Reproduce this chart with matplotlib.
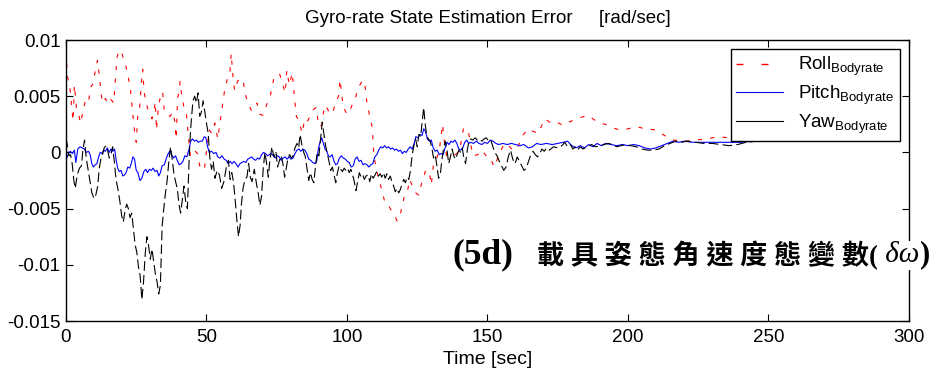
import matplotlib
matplotlib.use("Agg")
import matplotlib.pyplot as plt
from matplotlib.lines import Line2D
import numpy as np

# values, in units of 1e-3 rad/sec
t_roll = [0, 0.5, 1.5, 2.5, 3, 3.7, 4.5, 5.2, 6, 7, 8, 8.8, 9.6, 10.4, 11.2, 12, 12.6, 13.2, 14, 15,
          16, 17, 17.6, 18.2, 19, 19.8, 20.6, 21.4, 22.3, 23, 23.6, 24, 24.5, 25, 25.6, 26.2, 26.8, 27.3,
          27.8, 28.4, 29.2, 30, 30.6, 31.2, 31.8, 32.2, 32.8, 33.6, 34.4, 35, 36, 37, 38, 38.8, 39.2,
          39.7, 40.3, 40.6, 41.2, 42, 42.8, 43.5, 44.3, 45, 46, 46.8, 47.6, 48.5, 49.3, 50.2, 51, 51.8,
          53, 54, 55, 55.8, 56.5, 57.5, 58.3, 58.8, 59.4, 60, 61, 62, 63, 64, 65, 66, 67, 68, 69, 70,
          71.5, 72.5, 74, 75, 76, 77, 78, 78.6, 79.5, 80.5, 81.2, 82, 83, 84, 85, 86, 87, 88, 89, 90,
          91, 92, 93, 94, 95, 96, 97, 97.5, 98.5, 99.5, 100.5, 101.8, 102.8, 104, 105, 106.2, 107, 108,
          109, 109.6, 110.5, 111.5, 112.5, 113.5, 114.8, 115.8, 117, 117.8, 119, 120.5, 121.5, 122.3,
          123.3, 124.5, 125.5, 126.5, 128, 129.3, 130, 130.8, 131.7, 133, 134, 134.8, 135.5, 137,
          138.5, 140, 141.5, 142.5, 143.3, 144.8, 146.6, 148, 149.5, 151, 152.3, 153.5, 154.5, 156,
          157.5, 159, 160.5, 162.5, 164.5, 166, 168, 170.5, 172.5, 174.5, 177, 179, 181, 183, 185.8,
          188, 190, 192, 194.5, 197, 200, 203, 206, 210, 213, 216, 220, 224, 228, 232, 236, 242, 250]
roll = [9.0, 6.8, 5.5, 2.8, 6.0, 4.0, 3.4, 2.6, 3.6, 4.7, 4.5, 5.8, 6.1, 7.2, 8.2, 6.5, 5.0, 4.4, 4.8,
        4.3, 4.7, 4.4, 6.6, 8.5, 9.1, 8.9, 8.2, 7.6, 6.5, 5.5, 3.8, 2.9, 1.6, 0.9, 3.5, 4.0, 6.0, 7.4,
        5.4, 4.5, 3.8, 3.5, 3.0, 3.5, 4.5, 2.0, 3.8, 5.0, 5.4, 3.6, 3.4, 3.2, 3.6, 2.7, 1.2, 4.8, 5.5,
        6.3, 5.0, 4.0, 3.6, 1.5, -0.4, -0.3, 0.1, -0.1, -1.2, -1.6, -1.4, 0.5, 2.0, 1.7, 2.6, 1.2,
        3.0, 4.4, 5.6, 6.6, 7.0, 8.8, 6.8, 5.5, 6.3, 6.6, 6.4, 5.0, 4.3, 3.7, 4.0, 4.4, 3.4, 3.3,
        4.3, 4.8, 6.6, 6.9, 7.0, 6.2, 5.3, 7.3, 6.0, 7.1, 5.2, 3.2, 2.8, 1.7, 3.0, 2.8, 3.3, 3.8,
        4.0, 2.3, 2.4, 4.2, 3.9, 3.4, 3.6, 4.5, 5.0, 6.5, 4.4, 3.6, 3.4, 4.2, 4.7, 5.7, 6.2, 6.4,
        4.6, 3.3, 2.2, -0.4, -1.5, -2.6, -3.4, -4.5, -4.7, -5.2, -5.6, -6.1, -5.5, -3.8, -3.5,
        -2.4, -3.0, -3.6, -3.8, -2.8, -1.6, -1.7, -2.9, -1.0, -0.8, 0.5, 2.5, 0.6, -0.3, -0.4,
        -0.2, 0.1, 2.2, 2.0, 1.7, -0.3, -0.2, 0.2, -0.3, -0.4, -1.3, -0.6, 0.0, 0.8, 0.6, 0.2, 0.3,
        1.5, 2.1, 1.9, 1.7, 3.0, 2.6, 2.7, 2.4, 2.7, 2.9, 3.1, 3.3, 2.9, 2.6, 2.5, 2.2, 2.0, 2.1,
        2.3, 2.1, 2.0, 1.5, 1.1, 1.0, 1.1, 1.2, 1.4, 1.3, 1.2, 1.3]

t_pitch = [0, 0.7, 1.5, 2.3, 3, 3.5, 4.2, 5, 5.8, 6.5, 7.2, 8, 8.6, 9.2, 9.8, 10.4, 11, 11.6, 12.2,
           12.8, 13.4, 14, 14.7, 15.4, 16, 16.7, 17.3, 17.8, 18.4, 19, 19.6, 20.2, 20.8, 21.4, 22,
           22.7, 23.3, 23.8, 24.4, 25, 25.6, 26.3, 27, 27.7, 28.4, 29, 29.7, 30.4, 31, 31.7, 32.4, 33,
           33.6, 34.2, 35, 35.6, 36.2, 36.9, 37.6, 38.3, 39, 39.6, 40.3, 41, 41.6, 42.3, 43, 43.7,
           44.4, 45, 45.7, 46.4, 47.1, 47.8, 48.5, 49.2, 49.8, 50.4, 51, 51.8, 52.6, 53.4, 54, 54.8,
           55.5, 56.3, 57, 57.7, 58.4, 59.1, 59.8, 60.5, 61.2, 61.9, 62.6, 63.3, 64, 64.7, 65.4, 66.1,
           66.8, 67.5, 68.2, 68.9, 69.6, 70.3, 71, 71.7, 72.4, 73.1, 73.8, 74.5, 75.2, 75.9, 76.6,
           77.3, 78, 78.7, 79.4, 80.1, 80.8, 81.5, 82.2, 82.9, 83.6, 84.3, 85, 85.7, 86.4, 87.1, 87.8,
           88.5, 89.2, 89.8, 90.4, 91, 91.6, 92.2, 92.8, 93.4, 94, 94.7, 95.4, 96, 96.6, 97.3, 98,
           98.7, 99.4, 100.1, 100.8, 101.5, 102.2, 102.9, 103.6, 104.3, 105, 105.7, 106.4, 107.1,
           107.8, 108.5, 109.2, 109.9, 110.6, 111.3, 112, 112.7, 113.4, 114.1, 114.8, 115.5, 116.2,
           116.9, 117.6, 118.3, 119, 119.7, 120.4, 121.1, 121.8, 122.5, 123.2, 123.9, 124.5, 125.2,
           126, 126.7, 127.3, 127.9, 128.6, 129.3, 130, 130.7, 131.4, 132.1, 132.8, 133.5, 134.2,
           134.9, 135.6, 136.3, 137, 137.7, 138.4, 139.1, 139.8, 140.5, 141.2, 141.9, 142.6, 143.3,
           144, 145, 146, 147, 148, 149, 150, 151, 152, 153, 154, 155.5, 157, 158.5, 160, 161.5, 163,
           164.5, 166, 167.5, 169, 171, 173, 175, 177, 178.5, 180, 181.5, 183, 184.5, 186, 187.5, 189,
           190.5, 192, 194, 196, 198, 200, 202, 204, 206, 208, 210, 212, 214, 216, 218, 220, 223, 226,
           230, 235, 240, 245, 250]
pitch = [-0.7, -0.2, 0.1, -0.1, 0.2, -0.9, 0.3, 0.5, 0.4, 0.3, 0.0, 0.1, -0.2, -1.0, -1.3, -1.1,
         -1.0, -0.4, 0.0, -0.1, 0.2, 0.1, 0.4, 0.0, 0.3, 0.1, 0.3, -0.6, -1.4, -1.7, -1.6, -2.1, -2.0,
         -1.8, -1.3, -1.4, -0.9, -0.4, -0.6, -1.6, -1.8, -2.5, -2.3, -1.7, -1.5, -1.8, -1.5, -1.6,
         -1.4, -1.7, -1.6, -2.1, -1.8, -1.2, -1.1, -0.6, -0.2, 0.1, -0.2, -0.5, -0.3, -0.7, -1.1,
         -1.0, -0.8, -0.3, -0.4, 0.2, 1.0, 1.2, 1.0, 1.1, 0.9, 1.0, 1.0, 1.4, 1.3, 0.5, 0.0, 0.1,
         -0.1, 0.0, -0.4, -0.5, -0.3, -0.6, -0.7, -1.0, -0.8, -1.0, -0.8, -1.0, -1.3, -1.0, -0.9,
         -0.8, -0.9, -0.6, -0.5, -0.4, -0.6, -0.7, -0.5, -0.6, -0.2, 0.0, -0.1, -0.3, -0.2, -0.1,
         -0.3, -0.5, -0.3, -0.4, -0.7, -0.5, -0.4, -0.6, -0.4, -0.6, -0.5, -0.1, 0.2, 0.3, 0.1, 0.3,
         0.2, -0.1, -0.6, -0.7, -0.9, -1.0, -0.8, 0.3, 0.9, 1.3, 0.8, 0.3, 0.1, -0.3, -0.4, -0.2,
         -0.8, -1.1, -1.0, -0.5, -0.3, -0.5, -0.6, -0.8, -0.9, -1.3, -1.2, -0.6, -0.4, -0.8, -0.7,
         -1.1, -1.0, -1.1, -1.3, -1.1, -1.0, -0.4, -0.2, 0.2, 0.5, 0.4, 0.6, 0.4, 0.5, 0.3, 0.4,
         0.2, 0.3, 0.1, 0.2, -0.1, 0.1, 0.0, 0.3, 0.5, 0.3, 0.8, 1.4, 1.3, 1.6, 1.5, 2.1, 1.9, 1.2,
         1.0, 1.1, 0.4, 0.1, 0.2, -0.2, -0.1, -0.2, 0.4, 0.9, 0.7, 1.0, 0.9, 1.1, 0.8, 0.3, 0.2, 0.4,
         0.9, 1.1, 0.8, 0.9, 0.8, 1.0, 0.8, 0.7, 0.9, 0.8, 1.1, 1.0, 0.8, 0.7, 0.8, 0.7, 0.8, 0.7,
         0.6, 0.7, 0.4, 0.5, 0.8, 0.7, 0.8, 0.7, 0.8, 0.9, 1.0, 0.6, 0.4, 0.6, 0.4, 0.7, 0.5, 0.8,
         0.6, 0.8, 0.7, 0.6, 0.7, 0.6, 0.7, 0.6, 0.4, 0.3, 0.4, 0.6, 0.8, 1.0, 0.9, 1.0, 0.9, 0.9,
         0.9, 0.9, 0.9, 1.0, 1.0]

t_yaw = [0, 0.5, 1, 1.6, 2.2, 2.8, 3.3, 4, 4.8, 5.5, 6, 6.6, 7.2, 7.8, 8.5, 9.2, 10, 10.6, 11.3,
         11.8, 12.4, 13, 13.6, 14.2, 14.8, 15.4, 16, 16.6, 17.2, 17.8, 18.5, 19.2, 19.8, 20.4, 21,
         21.6, 22.2, 22.8, 23.4, 24, 24.6, 25.2, 25.8, 26.4, 27, 27.6, 28.2, 28.8, 29.4, 30, 30.6,
         31.2, 31.8, 32.4, 33, 33.6, 34.2, 34.8, 35.4, 36, 36.6, 37.2, 37.8, 38.4, 39, 39.6, 40.2,
         40.8, 41.4, 42, 42.6, 43.2, 43.8, 44.2, 44.6, 45.2, 45.8, 46.4, 47, 47.6, 48.2, 48.8, 49.4,
         50, 50.6, 51.2, 51.8, 52.4, 53, 53.8, 54.6, 55.4, 56.2, 57, 57.8, 58.4, 59, 59.6, 60.2, 60.8,
         61.4, 62, 62.4, 63, 63.7, 64.4, 65, 65.6, 66.2, 67, 67.8, 68.4, 69, 69.6, 70.2, 70.8, 71.4,
         72, 72.6, 73.3, 74, 74.7, 75.3, 76, 76.6, 77.2, 77.8, 78.4, 79, 79.6, 80.2, 80.8, 81.5, 82.2,
         82.8, 83.3, 84, 84.6, 85.2, 85.8, 86.4, 87, 87.6, 88.2, 88.8, 89.4, 90, 90.6, 91.2, 91.8,
         92.4, 93, 93.6, 94.2, 94.8, 95.4, 96, 96.6, 97.2, 97.8, 98.4, 99, 99.6, 100.2, 100.8, 101.4,
         102, 102.6, 103.2, 103.8, 104.4, 105, 105.6, 106.2, 106.8, 107.5, 108.1, 108.7, 109.3, 110,
         110.6, 111.2, 111.8, 112.4, 113, 113.6, 114.2, 114.8, 115.4, 116, 116.6, 117.2, 117.8,
         118.4, 119, 119.6, 120.2, 120.8, 121.4, 122, 122.6, 123.2, 123.8, 124.4, 125, 125.6, 126.2,
         126.8, 127.3, 127.8, 128.4, 129, 129.6, 130.2, 130.8, 131.4, 132, 132.6, 133.2, 133.8,
         134.4, 135, 135.6, 136.2, 136.8, 137.4, 138, 138.6, 139.2, 139.8, 140.4, 141, 141.6, 142.2,
         142.8, 143.4, 144, 144.8, 145.6, 146.4, 147.2, 148, 148.8, 149.5, 150.2, 151, 151.8, 152.6,
         153.4, 154.2, 155, 155.8, 156.6, 157.4, 158.2, 159, 159.8, 160.6, 161.4, 162.2, 163, 163.8,
         164.6, 165.4, 166.2, 167, 167.8, 168.6, 169.4, 170.2, 171, 172, 173.5, 175, 176.5, 177.5,
         178.5, 179.5, 180.4, 181.2, 182, 183, 184, 185.4, 187, 188.5, 190, 191.5, 193, 194.5, 196,
         197.5, 199, 201, 203, 205, 207, 209, 211, 213, 215, 217, 219, 221, 224, 227, 230, 233, 236,
         239, 242, 246, 250]
yaw = [1.3, 0.6, -0.3, -0.2, -1.0, -2.5, -3.2, -2.0, -1.4, -1.2, 0.2, 1.1, -0.5, -1.4, -2.5, -3.6,
       -4.1, -3.8, -3.0, -1.5, -0.6, -0.2, 0.4, 0.6, 0.2, -0.5, -0.2, 0.5, -0.8, -2.4, -3.3, -4.4,
       -5.6, -6.2, -5.2, -4.6, -5.0, -5.8, -5.4, -6.8, -8.2, -8.9, -10.2, -11.0, -13.1, -11.5, -9.0,
       -7.5, -8.3, -9.5, -8.6, -9.7, -10.8, -11.5, -12.6, -11.8, -6.6, -5.0, -3.6, -2.5, -0.8, 0.5,
       -0.6, -1.9, -2.6, -3.2, -4.6, -5.4, -4.2, -3.0, -4.4, -5.0, -0.8, 1.4, 2.9, 4.6, 5.0, 4.4,
       5.3, 3.2, 3.6, 4.6, 3.6, 2.6, 1.7, -0.5, -1.5, -0.8, -2.3, -1.6, -2.0, -3.2, -2.6, -1.4,
       -0.7, -2.4, -1.8, -2.6, -4.2, -6.0, -7.5, -6.4, -4.7, -3.2, -2.4, -2.2, -1.0, -2.2, -2.6,
       -1.5, -2.8, -3.6, -4.7, -3.9, -1.4, 0.0, -1.0, -2.2, -0.6, 0.5, -0.4, 0.1, -1.3, -0.7, -0.3,
       -1.0, -2.2, -1.4, -0.5, -0.2, -0.5, -0.3, 0.4, 0.8, 0.4, 1.6, 0.6, 0.0, -0.4, -1.5, -2.5,
       -1.8, -2.4, -2.7, -1.2, 0.0, -0.3, 1.2, 2.7, 1.6, 0.6, -0.1, -0.8, -1.6, -1.3, -2.0, -2.7,
       -1.8, -1.2, -1.5, -1.7, -1.4, -1.6, -1.4, -1.8, -1.5, -2.0, -2.6, -3.4, -2.6, -1.8, -2.2,
       -2.0, -2.4, -2.1, -2.0, -2.6, -1.9, -2.3, -2.0, -1.7, -2.1, -1.9, -2.2, -1.8, -2.3, -1.9,
       -2.4, -2.1, -2.6, -3.0, -3.5, -3.2, -3.6, -3.3, -2.8, -2.4, -2.7, -2.2, -2.4, -1.6, -0.2,
       0.6, 1.2, 0.5, 1.6, 1.4, 2.8, 4.0, 2.6, 1.4, 1.2, 1.0, 0.4, -0.5, -0.2, -1.2, -2.3, -2.0,
       -0.6, 0.4, 1.0, 0.2, -1.0, -0.4, 0.3, -0.3, -0.6, -0.2, 0.2, 0.0, 0.4, -0.5, -1.0, 0.2, 1.0,
       1.2, 1.1, 1.3, 1.1, 1.2, 1.0, 1.2, 1.3, 1.1, 1.2, 0.6, 0.0, -0.3, -0.8, -1.2, -1.6, -1.3,
       -0.4, 0.2, -0.6, -1.0, -0.4, -0.8, -1.2, -1.6, -1.4, -0.8, -0.2, 0.1, -0.2, -0.4, -0.1, 0.3,
       0.1, 0.4, 0.2, 0.5, 0.4, 0.6, 0.9, 0.5, 0.7, 0.3, 0.5, 0.2, 0.5, 0.3, 0.5, 0.7, 0.5, 0.6,
       0.7, 0.8, 0.7, 0.5, 0.6, 0.7, 0.6, 0.5, 0.3, 0.2, 0.2, 0.3, 0.6, 0.8, 1.0, 0.9, 1.0, 0.9,
       0.8, 0.8, 0.7, 0.6, 0.7, 0.9, 1.0, 1.0]

x_ticks = [0, 50, 100, 150, 200, 250, 300]
y_ticks = [-0.015, -0.01, -0.005, 0, 0.005, 0.01]
y_tick_labels = ["-0.015", "-0.01", "-0.005", "0", "0.005", "0.01"]

plt.rcParams["font.family"] = ["Liberation Sans", "DejaVu Sans"]
plt.rcParams["mathtext.default"] = "regular"
plt.rcParams["lines.scale_dashes"] = False

fig = plt.figure(figsize=(9.4, 3.74), dpi=100)
ax = fig.add_axes([0.0702, 0.1417, 0.8968, 0.7513])

scale = 1e-3
ax.plot(t_roll, np.array(roll) * scale, color="red", lw=0.8, dashes=(3, 6))
ax.plot(t_pitch, np.array(pitch) * scale, color="blue", lw=0.8)
ax.plot(t_yaw, np.array(yaw) * scale, color="black", lw=0.8, dashes=(7, 3))

ax.set_xlim(0, 300)
ax.set_ylim(-0.015, 0.01)
ax.set_xticks(x_ticks)
ax.set_yticks(y_ticks)
ax.set_yticklabels(y_tick_labels)
ax.tick_params(direction="in", top=True, right=True, length=5, width=0.8, labelsize=13.5)
ax.tick_params(axis="x", pad=6)
ax.tick_params(axis="y", pad=4)
for s in ax.spines.values():
    s.set_linewidth(1.0)

ax.set_title("Gyro-rate State Estimation Error     [rad/sec]", fontsize=13.5, pad=12)
ax.set_xlabel("Time [sec]", fontsize=14, labelpad=3)

handles = [Line2D([], [], color="#ff0000", lw=1.0, dashes=(5, 13)),
           Line2D([], [], color="blue", lw=0.8),
           Line2D([], [], color="black", lw=0.8)]
labels = ["Roll$_{Bodyrate}$", "Pitch$_{Bodyrate}$", "Yaw$_{Bodyrate}$"]
leg = ax.legend(handles, labels, loc="upper right", fontsize=13.5, fancybox=False,
                framealpha=1, edgecolor="black", borderaxespad=0.5, handlelength=2.5,
                labelspacing=0.3, borderpad=0.3, handletextpad=0.8)
leg.get_frame().set_linewidth(1.0)

# chinese caption in pieces: label, bold chinese, italic greek, closing bracket
cap_font = ["Liberation Serif", "Noto Sans CJK TC"]
box = dict(facecolor="white", edgecolor="none", pad=1)
cap_y = 0.318
t0 = fig.text(453 / 940, cap_y, "(5d)", fontsize=25.5, fontweight="bold",
              family="Liberation Serif", va="center", ha="left", bbox=box)
t1 = fig.text(537 / 940, cap_y, "載 具 姿 態 角 速 度 態 變 數(", fontsize=19.5,
              fontweight="bold", family=cap_font, va="center", ha="left", bbox=box)
t2 = fig.text(0, cap_y, " δω", fontsize=21, fontstyle="italic", family="Liberation Serif",
              va="center", ha="left", bbox=box)
t3 = fig.text(0, cap_y, ")", fontsize=22, fontweight="bold", family="Liberation Serif",
              va="center", ha="left", bbox=box)

fig.canvas.draw()
r = fig.canvas.get_renderer()
inv = fig.transFigure.inverted()
x2 = inv.transform((t1.get_window_extent(r).x1, 0))[0]
t2.set_position((x2, cap_y))
x3 = inv.transform((t2.get_window_extent(r).x1, 0))[0]
t3.set_position((x3, cap_y))

fig.savefig("out.png", dpi=100)
